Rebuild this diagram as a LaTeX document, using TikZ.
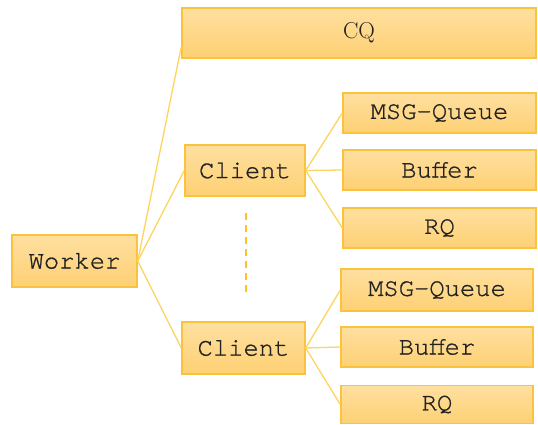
\documentclass[tikz,border=0pt]{standalone}
\usepackage{fontspec}
\setmonofont[FakeBold=0.9]{TeX Gyre Cursor}
\begin{document}
\begin{tikzpicture}[x=1pt,y=-1pt,
  box/.style={draw=boxedge, line width=1.4pt, top color=boxtop, bottom color=boxbot,
    inner sep=0pt, font=\ttfamily\fontsize{25.5}{25.5}\selectfont, text=txt},
  link/.style={draw=linkc, line width=1.3pt}]
\definecolor{boxtop}{HTML}{FFE0A0}
\definecolor{boxbot}{HTML}{FDD073}
\definecolor{boxedge}{HTML}{FAC23E}
\definecolor{linkc}{HTML}{FCD45E}
\definecolor{txt}{HTML}{222222}
\definecolor{dashc}{HTML}{FFC21A}
\useasboundingbox (0,0) rectangle (538,424);

% root and shared queue
\node[box, minimum width=125pt, minimum height=52pt] (worker) at (74.5,261) {Worker};
\node[box, minimum width=354pt, minimum height=50pt, font=\rmfamily\fontsize{23}{23}\selectfont] (cq) at (359,33) {CQ};

% first client and its parts
\node[box, minimum width=120pt, minimum height=51pt] (c1) at (245,170.5) {Client};
\node[box, minimum width=193pt, minimum height=40pt] (mq1) at (439.5,113) {MSG-Queue};
\node[box, minimum width=193pt, minimum height=40pt] (bf1) at (439.5,170) {Buffer};
\node[box, minimum width=193pt, minimum height=40pt] (rq1) at (439.5,228) {RQ};

% last client and its parts
\node[box, minimum width=123pt, minimum height=52pt] (c2) at (243.5,348) {Client};
\node[box, minimum width=192pt, minimum height=42pt] (mq2) at (437,290) {MSG-Queue};
\node[box, minimum width=192pt, minimum height=40pt] (bf2) at (437,347) {Buffer};
\node[box, minimum width=192pt, minimum height=38pt] (rq2) at (437,404.5) {RQ};

% links
\draw[link] (worker.east) -- ([yshift=12pt]cq.south west);
\draw[link] (worker.east) -- (c1.west);
\draw[link] (worker.east) -- (c2.west);
\draw[link] (c1.east) -- (mq1.west);
\draw[link] (c1.east) -- (bf1.west);
\draw[link] (c1.east) -- (rq1.west);
\draw[link] (c2.east) -- (mq2.west);
\draw[link] (c2.east) -- (bf2.west);
\draw[link] (c2.east) -- (rq2.west);

% ellipsis between clients
\coordinate (dtop) at (246,213);
\coordinate (dbot) at (246,297);
\draw[dashc, line width=2.6pt, dash pattern=on 7pt off 5pt] (dtop) -- (dbot);
\end{tikzpicture}
\end{document}
